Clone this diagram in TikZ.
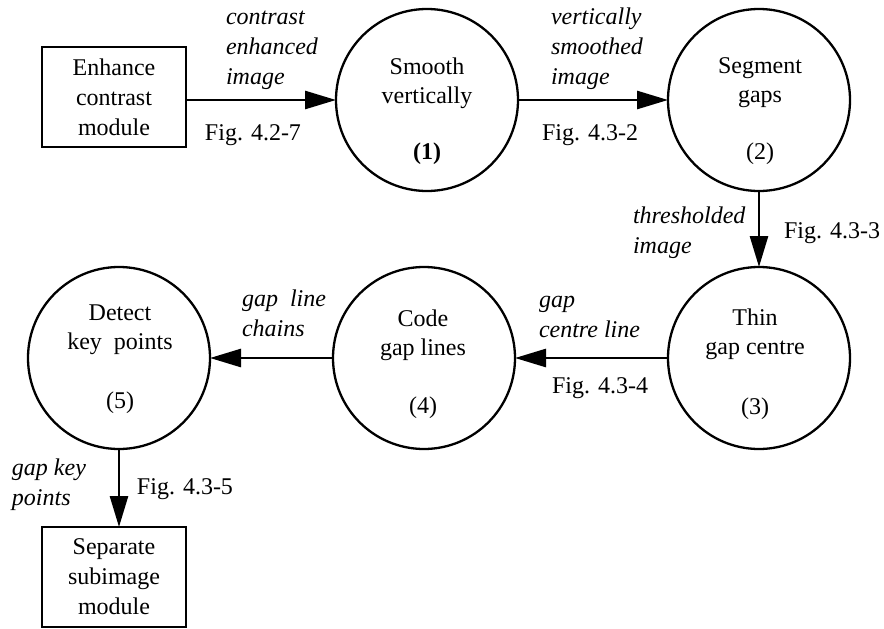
\documentclass[tikz,border=0pt]{standalone}
\usepackage{fontspec}
\setmainfont{Liberation Serif}
\usetikzlibrary{arrows.meta}
\begin{document}
\begin{tikzpicture}[x=1pt,y=-1pt,
  every node/.style={inner sep=0pt, outer sep=0pt},
  txt/.style={font=\fontsize{24}{29}\selectfont, align=center},
  modtxt/.style={font=\fontsize{24}{30}\selectfont, align=center},
  lbl/.style={font=\fontsize{24}{30}\selectfont\itshape, align=left, anchor=west},
  fig/.style={font=\fontsize{24}{30}\selectfont},
  proc/.style={circle, draw, line width=2.3pt, minimum size=182pt},
  module/.style={rectangle, draw, line width=2.3pt, minimum width=144pt, minimum height=100pt},
  flow/.style={line width=2.7pt, -{Triangle[length=31pt,width=18pt]}}
]
\useasboundingbox (0,0) rectangle (884,629);

% external modules
\node[module, modtxt] (m1) at (114,97) {Enhance\\contrast\\module};
\node[module, modtxt] (m2) at (114,577) {Separate\\subimage\\module};

% processes
\node[proc] (p1) at (427,100) {};
\node[proc] (p2) at (759,100) {};
\node[proc] (p3) at (759,358) {};
\node[proc] (p4) at (424,358) {};
\node[proc] (p5) at (119,358) {};

% process names and numbers
\node[txt] (p1name) at (427,83) {Smooth\\vertically};
\node[txt] (p1num) at (427,154) {\bfseries (1)};
\node[txt] (p2name) at (760,83) {Segment\\gaps};
\node[txt] (p2num) at (760,154) {(2)};
\node[txt] (p3name) at (755,334) {Thin\\gap centre};
\node[txt] (p3num) at (755,409) {(3)};
\node[txt] (p4name) at (423,335) {Code\\gap lines};
\node[txt] (p4num) at (423,408) {(4)};
\node[txt] (p5name) at (120,330) {Detect\\key\ \ points};
\node[txt] (p5num) at (120,403) {(5)};

% data flows
\draw[flow] (m1.east |- p1.west) -- (p1.west);
\draw[flow] (p1.east) -- (p2.west);
\draw[flow] (p2.south) -- (p3.north);
\draw[flow] (p3.west) -- (p4.east);
\draw[flow] (p4.west) -- (p5.east);
\draw[flow] (p5.south) -- (p5.south |- m2.north);

% flow labels
\node[lbl] (l1) at (226,50) {contrast\\enhanced\\image};
\node[fig] (f1) at (253,135) {Fig. 4.2-7};
\node[lbl] (l2) at (551,49) {vertically\\smoothed\\image};
\node[fig] (f2) at (590,135) {Fig. 4.3-2};
\node[lbl] (l3) at (633,233) {thresholded\\image};
\node[fig] (f3) at (832,233) {Fig. 4.3-3};
\node[lbl] (l4) at (539,317) {gap\\centre line};
\node[fig] (f4) at (600,388) {Fig. 4.3-4};
\node[lbl] (l5) at (242,313) {gap\ \ line\\chains};
\node[lbl] (l6) at (12,485) {gap key\\points};
\node[fig] (f5) at (185,489) {Fig. 4.3-5};
\end{tikzpicture}
\end{document}
